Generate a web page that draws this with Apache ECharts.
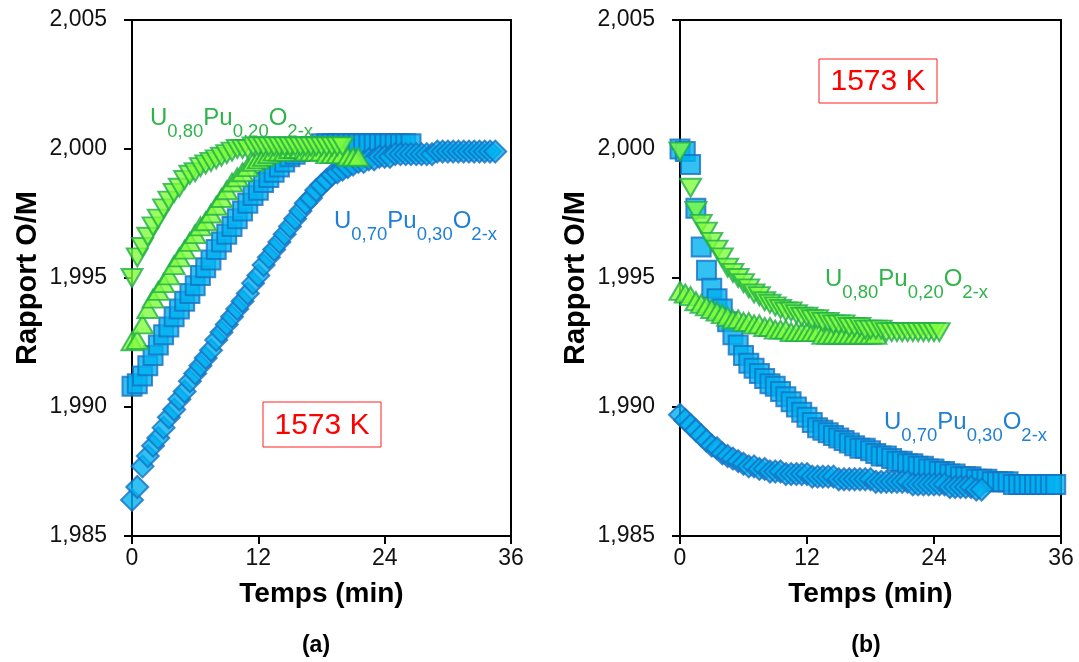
<!DOCTYPE html>
<html><head><meta charset="utf-8">
<script src="https://cdn.jsdelivr.net/npm/echarts@6/dist/echarts.min.js"></script>
<style>html,body{margin:0;padding:0;background:#fff}#c{width:1079px;height:662px}</style>
</head><body><div id="c"></div>
<script>
// time axis (min), sampling every 0.5 min
const TIME = [0,0.5,1,1.5,2,2.5,3,3.5,4,4.5,5,5.5,6,6.5,7,7.5,8,8.5,9,9.5,
  10,10.5,11,11.5,12,12.5,13,13.5,14,14.5,15,15.5,16,16.5,17,17.5,18,18.5,19,19.5,
  20,20.5,21,21.5,22,22.5,23,23.5,24,24.5,25,25.5,26,26.5,27,27.5,28,28.5,29,29.5,
  30,30.5,31,31.5,32,32.5,33,33.5,34,34.5,35,35.5,36];

const X_TICKS = [0, 12, 24, 36];
const Y_TICKS = [1.985, 1.990, 1.995, 2.000, 2.005];

// (a) oxidation
const A_U80_DOWN = [1.9950,1.9958,1.9962,1.9966,1.9970,1.9973,1.9977,1.9980,1.9983,1.9985,
  1.9988,1.9990,1.9991,1.9993,1.9994,1.9995,1.9996,1.9997,1.9998,1.9999,
  2.0000,2.0000,2.0000,2.0001,2.0001,2.0001,2.0001,2.0001,2.0001,2.0001,
  2.0001,2.0001,2.0001,2.0001,2.0001,2.0001,2.0001,2.0001,2.0001,2.0001,2.0001];
const A_U80_UP = [1.99255,1.9926,1.9932,1.9938,1.9942,1.9945,1.9948,1.9951,1.9955,1.9958,
  1.9961,1.9964,1.9967,1.9970,1.9972,1.9975,1.9978,1.9981,1.9984,1.9987,
  1.9989,1.9991,1.9993,1.9995,1.9996,1.9997,1.9998,1.9999,1.9999,1.9999,
  2.0000,2.0000,2.0000,1.9999,1.9999,1.9999,1.9999,1.9998,1.9998,1.9998,
  1.9998,1.9997,1.9997,1.9997];
const A_U70_SQ = [1.9908,1.9909,1.9912,1.9916,1.9920,1.9924,1.9928,1.9931,1.9935,1.9938,
  1.9941,1.9944,1.9947,1.9951,1.9954,1.9957,1.9961,1.9964,1.9967,1.9970,
  1.9973,1.9976,1.9979,1.9982,1.9984,1.9987,1.9989,1.9991,1.9993,1.9995,
  1.9997,1.9998,1.9999,2.0000,2.0001,2.0001,2.0002,2.0002,2.0002,2.0002,
  2.0002,2.0002,2.0002,2.0002,2.0002,2.0002,2.0002,2.0002,2.0002,2.0002,
  2.0002,2.0002,2.0002,2.0002];
const A_U70_DIA = [1.9864,1.9869,1.9877,1.9881,1.9885,1.9888,1.9892,1.9896,1.9899,1.9903,
  1.9906,1.9910,1.9913,1.9916,1.9919,1.9922,1.9926,1.9929,1.9932,1.9935,
  1.9938,1.9941,1.9944,1.9948,1.9951,1.9955,1.9958,1.9961,1.9964,1.9967,
  1.9970,1.9973,1.9976,1.9979,1.9981,1.9984,1.9986,1.9988,1.9990,1.9991,
  1.9992,1.9993,1.9994,1.9995,1.9995,1.9996,1.9996,1.9997,1.9997,1.9997,
  1.9998,1.9998,1.9998,1.9998,1.9998,1.9998,1.9998,1.9998,1.9999,1.9999,
  1.9999,1.9999,1.9999,1.9999,1.9999,1.9999,1.9999,1.9999,1.9999,1.9999];

// (b) reduction (null = no measurement at that time)
const B_U80_DOWN = [1.9999,null,1.9985,1.9976,1.9971,1.9968,1.9964,1.9961,1.9958,1.9954,
  1.9952,1.9950,1.9948,1.9946,1.9944,1.9943,1.9941,1.9940,1.9939,1.9938,
  1.9937,1.9937,1.9936,1.9935,1.9935,1.9934,1.9934,1.9933,1.9933,1.9932,
  1.9932,1.9932,1.9931,1.9931,1.9931,1.9930,1.9930,1.9930,1.9930,1.9929,
  1.9929,1.9929,1.9929,1.9929,1.9929,1.9929,1.9929,1.9929,1.9929,1.9929];
const B_U80_UP = [1.9945,1.9944,1.9943,1.9941,1.9940,1.9939,1.9938,1.9937,1.9936,1.9935,
  1.9934,1.9934,1.9933,1.9933,1.9932,1.9932,1.9931,1.9931,1.9930,1.9930,
  1.9930,1.9929,1.9929,1.9929,1.9929,1.9929,1.9929,1.9928,1.9928,1.9928,
  1.9928,1.9928,1.9928,1.9928,1.9928,1.9928,1.9928,1.9928];
const B_U70_SQ = [2.0000,1.9999,1.9994,1.9977,1.9962,1.9953,1.9946,1.9942,1.9938,1.9933,
  1.9928,1.9924,1.9920,1.9917,1.9915,1.9913,1.9911,1.9909,1.9908,1.9906,
  1.9904,1.9902,1.9900,1.9898,1.9896,1.9894,1.9892,1.9891,1.9890,1.9889,
  1.9888,1.9887,1.9886,1.9885,1.9884,1.9884,1.9883,1.9882,1.9881,1.9881,
  1.9880,1.9879,1.9879,1.9878,1.9878,1.9877,1.9877,1.9876,1.9876,1.9875,
  1.9875,1.9874,1.9874,1.9873,1.9873,1.9873,1.9872,1.9872,1.9872,1.9871,
  1.9871,1.9871,1.9871,1.9870,1.9870,1.9870,1.9870,1.9870,1.9870,1.9870,
  1.9870,1.9870];
const B_U70_DIA = [1.9897,1.9895,1.9893,1.9891,1.9889,1.9887,1.9885,1.9884,1.9882,1.9881,
  1.9880,1.9879,1.9878,1.9877,1.9877,1.9876,1.9876,1.9875,1.9875,1.9875,
  1.9874,1.9874,1.9874,1.9874,1.9874,1.9873,1.9873,1.9873,1.9873,1.9873,
  1.9872,1.9872,1.9872,1.9872,1.9872,1.9872,1.9872,1.9871,1.9871,1.9871,
  1.9871,1.9871,1.9871,1.9871,1.9870,1.9870,1.9870,1.9870,1.9870,1.9870,
  1.9870,1.9869,1.9869,1.9869,1.9869,1.9869,1.9868,1.9868];

const FONT = "'Liberation Sans', Arial, sans-serif";
const SQ_FILL = '#00b0f0', SQ_EDGE = '#1670c2';
const TRI_FILL = '#80fc3c', TRI_EDGE = '#22ae48';
const GREEN_TXT = '#2fb34a', BLUE_TXT = '#1f7fd4';

function pairs(vals) {
  const out = [];
  vals.forEach((v, i) => { if (v !== null) out.push([TIME[i], v]); });
  return out;
}

function xAxis(idx) {
  return {
    gridIndex: idx, type: 'value', min: X_TICKS[0], max: X_TICKS[X_TICKS.length - 1], interval: 12,
    name: 'Temps (min)', nameLocation: 'middle', nameGap: 44,
    nameTextStyle: { fontFamily: FONT, fontWeight: 'bold', fontSize: 28, color: '#000' },
    axisLine: { lineStyle: { color: '#000', width: 2 } },
    axisTick: { inside: false, length: 8, lineStyle: { color: '#000', width: 2 } },
    axisLabel: { fontFamily: FONT, fontSize: 23, color: '#111', margin: 11 },
    splitLine: { show: false }
  };
}
function yAxis(idx) {
  return {
    gridIndex: idx, type: 'value', min: Y_TICKS[0], max: Y_TICKS[Y_TICKS.length - 1], interval: 0.005,
    name: 'Rapport O/M', nameLocation: 'middle', nameGap: 90,
    nameTextStyle: { fontFamily: FONT, fontWeight: 'bold', fontSize: 29, color: '#000' },
    axisLine: { lineStyle: { color: '#000', width: 2 } },
    axisTick: { inside: false, length: 8, lineStyle: { color: '#000', width: 2 } },
    axisLabel: { fontFamily: FONT, fontSize: 23, color: '#111', margin: 25,
      formatter: v => v.toFixed(3).replace('.', ',') },
    splitLine: { show: false }
  };
}
function ser(idx, vals, kind) {
  const s = { type: 'scatter', xAxisIndex: idx, yAxisIndex: idx, data: pairs(vals), clip: false, silent: true, z: 2, zlevel: 0 };
  if (kind === 'sq') { s.symbol = 'rect'; s.symbolSize = 19; s.itemStyle = { color: SQ_FILL, borderColor: SQ_EDGE, borderWidth: 2 }; }
  if (kind === 'dia') { s.symbol = 'diamond'; s.symbolSize = 22; s.itemStyle = { color: SQ_FILL, borderColor: SQ_EDGE, borderWidth: 2 }; }
  if (kind === 'up') { s.symbol = 'triangle'; s.symbolSize = [21, 18]; s.itemStyle = { color: TRI_FILL, borderColor: TRI_EDGE, borderWidth: 2 }; }
  if (kind === 'down') { s.symbol = 'triangle'; s.symbolRotate = 180; s.symbolSize = [21, 18]; s.itemStyle = { color: TRI_FILL, borderColor: TRI_EDGE, borderWidth: 2 }; }
  return s;
}

function formula(a, b, x, y, color) {
  const r = {
    b: { fontFamily: FONT, fontSize: 24, lineHeight: 35, verticalAlign: 'top', fill: color, color: color },
    s: { fontFamily: FONT, fontSize: 18.5, lineHeight: 18, verticalAlign: 'bottom', fill: color, color: color }
  };
  return { type: 'text', x: x, y: y, silent: true, z: 100,
    style: { text: '{b|U}{s|' + a + '}{b|Pu}{s|' + b + '}{b|O}{s|2-x}', rich: r, fill: color, align: 'left', verticalAlign: 'top' } };
}
function tempBox(x, y, w, h) {
  return [
    { type: 'rect', z: 100, shape: { x: x, y: y, width: w, height: h }, style: { fill: '#fff', stroke: '#ff2020', lineWidth: 1 }, silent: true },
    { type: 'text', z: 101, x: x + w / 2, y: y + h / 2 + 1, silent: true,
      style: { text: '1573 K', fill: '#ff0000', fontFamily: FONT, fontSize: 30, align: 'center', verticalAlign: 'middle' } }
  ];
}

const chart = echarts.init(document.getElementById('c'), null, { renderer: 'canvas' });
chart.setOption({
  animation: false,
  backgroundColor: '#fff',
  grid: [
    { left: 132, top: 20, width: 379, height: 516, show: true, borderColor: '#000', borderWidth: 2, backgroundColor: 'transparent' },
    { left: 680, top: 20, width: 381, height: 516, show: true, borderColor: '#000', borderWidth: 2, backgroundColor: 'transparent' }
  ],
  xAxis: [xAxis(0), xAxis(1)],
  yAxis: [yAxis(0), yAxis(1)],
  series: [
    ser(0, A_U70_SQ, 'sq'), ser(0, A_U70_DIA, 'dia'), ser(0, A_U80_UP, 'up'), ser(0, A_U80_DOWN, 'down'),
    ser(1, B_U70_SQ, 'sq'), ser(1, B_U70_DIA, 'dia'), ser(1, B_U80_UP, 'up'), ser(1, B_U80_DOWN, 'down')
  ],
  graphic: {
    elements: [
      formula('0,80', '0,20', 150, 106, GREEN_TXT),
      formula('0,70', '0,30', 334, 209, BLUE_TXT),
      formula('0,80', '0,20', 825, 267, GREEN_TXT),
      formula('0,70', '0,30', 884, 410, BLUE_TXT),
      ...tempBox(263, 402, 118, 45),
      ...tempBox(819, 59, 118, 44),
      { type: 'text', z: 100, x: 316, y: 646, silent: true, style: { text: '(a)', fill: '#000', fontFamily: FONT, fontWeight: 'bold', fontSize: 23, align: 'center', verticalAlign: 'middle' } },
      { type: 'text', z: 100, x: 866, y: 646, silent: true, style: { text: '(b)', fill: '#000', fontFamily: FONT, fontWeight: 'bold', fontSize: 23, align: 'center', verticalAlign: 'middle' } }
    ]
  }
});
</script></body></html>
